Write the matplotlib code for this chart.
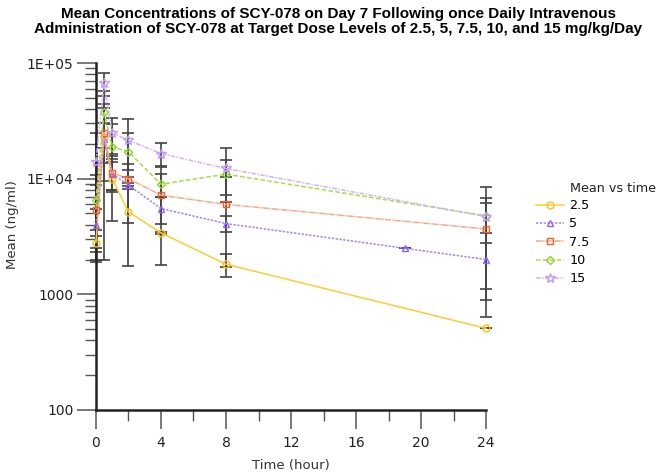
import numpy as np
import matplotlib
matplotlib.use("Agg")
import matplotlib.pyplot as plt
from matplotlib.ticker import FixedLocator, LogLocator, NullFormatter

# Sampling times (hour)
times = [0, 0.5, 1, 2, 4, 8, 24]
times_5 = [0, 0.5, 1, 2, 4, 8, 19, 24]

# Mean and SD concentrations (ng/ml) per dose level
mean_2_5 = [2800, 23000, 10000, 5160, 3400, 1820, 508]
sd_2_5 = [800, 21000, 5700, 3400, 60, 420, 0]
mean_5 = [4000, 22000, 11000, 8800, 5520, 4090, 2500, 2000]
sd_5 = [1500, 8400, 3000, 4700, 1480, 650, np.nan, 1360]
mean_7_5 = [5400, 25000, 11200, 10000, 7190, 5990, 3670]
sd_7_5 = [3500, 15500, 3500, 1850, 5400, 4250, 2550]
mean_10 = [6500, 37900, 18800, 17100, 8960, 10940, 4770]
sd_10 = [4200, 19600, 10850, 7850, 2000, 3700, 2000]
mean_15 = [14000, 67000, 24800, 21500, 16500, 12250, 4700]
sd_15 = [10800, 15000, 8400, 11100, 3700, 6000, 3800]

labels = ["2.5", "5", "7.5", "10", "15"]
x_ticks = [0, 4, 8, 12, 16, 20, 24]
y_ticks = [100, 1000, 10000, 100000]
y_tick_labels = ["100", "1000", "1E+04", "1E+05"]

series = [
    (times, mean_2_5, sd_2_5, "#FFCC33", "#FFC020", "o", "-"),
    (times_5, mean_5, sd_5, "#A080FF", "#8E63FF", "^", (0, (1.5, 1))),
    (times, mean_7_5, sd_7_5, "#FFA585", "#FF5A1F", "s", (0, (4, 0.6, 1, 0.6))),
    (times, mean_10, sd_10, "#A6E040", "#8CD42A", "D", (0, (3, 1.5))),
    (times, mean_15, sd_15, "#D2B0FF", "#C299FF", "*", (0, (3, 1, 1, 1))),
]

fig = plt.figure(figsize=(6.66, 4.72), dpi=100)
ax = fig.add_axes([0.144, 0.1314, 0.586, 0.7351])
ax.set_yscale("log")

# Error bars first (drawn in dark grey)
for t, m, s, lc, mc, mk, ls in series:
    m = np.array(m, dtype=float)
    s = np.nan_to_num(np.array(s, dtype=float))
    lower = np.minimum(s, m - 1.0)
    ax.errorbar(t, m, yerr=[lower, s], fmt="none", ecolor="#444444",
                elinewidth=1.2, capsize=4.3, capthick=1.2, zorder=2,
                clip_on=False)

for (t, m, s, lc, mc, mk, ls), lab in zip(series, labels):
    ms = 7 if mk == "*" else 5
    if mk == "D":
        ms = 4
    ax.plot(t, m, color=lc, linestyle=ls, linewidth=1.1, marker=mk,
            markersize=ms, markerfacecolor="none", markeredgecolor=mc,
            markeredgewidth=1.0, label=lab, zorder=3, clip_on=False)

ax.set_xlim(0, 24)
ax.set_ylim(100, 100000)
ax.xaxis.set_major_locator(FixedLocator(x_ticks))
ax.xaxis.set_minor_locator(FixedLocator([2, 6, 10, 14, 18, 22]))
ax.yaxis.set_major_locator(FixedLocator(y_ticks))
ax.set_yticklabels(y_tick_labels)
ax.yaxis.set_minor_locator(LogLocator(base=10, subs=np.arange(2, 10)))
ax.yaxis.set_minor_formatter(NullFormatter())

for side in ["top", "right"]:
    ax.spines[side].set_visible(False)
for side in ["left", "bottom"]:
    ax.spines[side].set_linewidth(1.8)
    ax.spines[side].set_color("#222222")

ax.tick_params(axis="both", which="major", direction="out", length=14,
               width=1.1, color="#555555", labelsize=10, labelcolor="#222222",
               pad=2)
ax.tick_params(axis="x", which="major", pad=5)
ax.tick_params(axis="both", which="minor", direction="out", length=8,
               width=1.0, color="#555555")

ax.set_xlabel("Time (hour)", fontsize=9.5, color="#333333", labelpad=6)
ax.set_ylabel("Mean (ng/ml)", fontsize=9.5, color="#333333")
ax.yaxis.set_label_coords(-0.196, 0.535)

fig.text(0.508, 0.985,
         "Mean Concentrations of SCY-078 on Day 7 Following once Daily Intravenous\n"
         "Administration of SCY-078 at Target Dose Levels of 2.5, 5, 7.5, 10, and 15 mg/kg/Day",
         ha="center", va="top", fontsize=11, fontweight="bold",
         family="Liberation Sans", linespacing=1.12)

# Legend title aligned with the entry text
fig.text(570 / 666, 1 - 188 / 472, "Mean vs time", ha="left", va="center",
         fontsize=9.2, color="#222222")
ax.legend(loc="upper left", bbox_to_anchor=(536 / 666, 1 - 199 / 472),
          bbox_transform=fig.transFigure, frameon=False, fontsize=9.2,
          handlelength=2.2, labelspacing=0.42, handletextpad=0.4,
          borderpad=0, borderaxespad=0)

fig.savefig("out.png", dpi=100)
